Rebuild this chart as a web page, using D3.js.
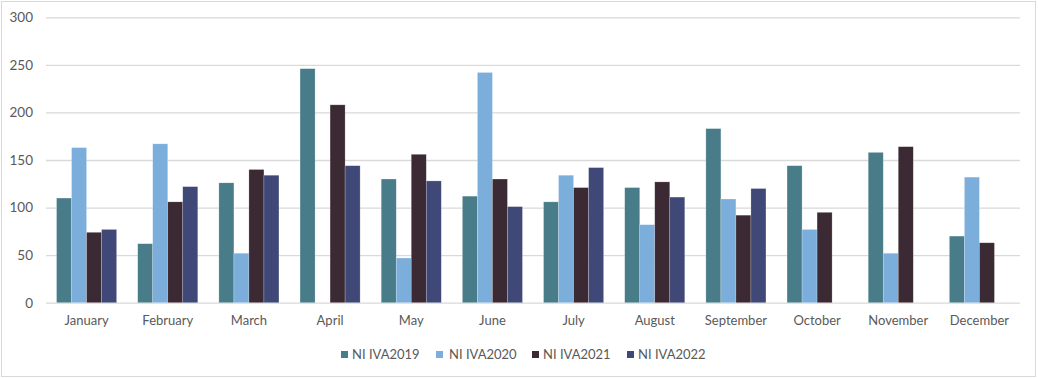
<!DOCTYPE html>
<html><head><meta charset="utf-8">
<script src="https://cdn.jsdelivr.net/npm/d3@7/dist/d3.min.js"></script>
<style>body{margin:0;background:#fff}svg{display:block}text{font-family:Lato,"Open Sans",sans-serif}</style>
</head><body><svg id="c" width="1038" height="378"></svg>
<script>
const months = ["January","February","March","April","May","June","July","August","September","October","November","December"];
const seriesNames = ["NI IVA2019","NI IVA2020","NI IVA2021","NI IVA2022"];
const iva2019 = [110,62,126,246,130,112,106,121,183,144,158,70];
const iva2020 = [163,167,52,null,47,242,134,82,109,77,52,132];
const iva2021 = [74,106,140,208,156,130,121,127,92,95,164,63];
const iva2022 = [77,122,134,144,128,101,142,111,120,null,null,null];
const yTicks = [0,50,100,150,200,250,300];
const colors = ["#487C89","#7BAEDB","#3B2A33","#3F4876"];

const series = [iva2019, iva2020, iva2021, iva2022];
const svg = d3.select("#c");
svg.append("rect").attr("x",1.5).attr("y",1.5).attr("width",1034).attr("height",375)
  .attr("fill","#fff").attr("stroke","#d9d9d9").attr("stroke-width",1);

const pLeft = 46, pRight = 1020, pTop = 17.3, pBottom = 302.7;
const x = d3.scaleBand().domain(months).range([pLeft,pRight]).paddingInner(0.26).paddingOuter(0.13);
const x1 = d3.scaleBand().domain(seriesNames).range([0,x.bandwidth()]);
const y = d3.scaleLinear().domain([0,300]).range([pBottom,pTop]);

const yAxis = d3.axisLeft(y).tickValues(yTicks).tickSize(-(pRight-pLeft)).tickPadding(13);
const gy = svg.append("g").attr("transform",`translate(${pLeft},0)`).call(yAxis);
gy.select(".domain").remove();
gy.selectAll(".tick line").attr("stroke","#d9d9d9").attr("stroke-width",1.3);
gy.selectAll(".tick text").attr("fill","#595959").attr("font-size",13.5);

months.forEach((m,i)=>{
  series.forEach((s,j)=>{
    const v = s[i];
    if (v==null) return;
    svg.append("rect")
      .attr("x", x(m)+x1(seriesNames[j]))
      .attr("y", y(v))
      .attr("width", x1.bandwidth())
      .attr("height", y(0)-y(v))
      .attr("fill", colors[j])
      .attr("stroke","#ffffff").attr("stroke-opacity",0.35).attr("stroke-width",0.6);
  });
});

const xAxis = d3.axisBottom(x).tickSize(0).tickPadding(13);
const gx = svg.append("g").attr("transform",`translate(0,${pBottom})`).call(xAxis);
gx.select(".domain").remove();
gx.selectAll(".tick text").attr("fill","#595959").attr("font-size",13);

const legX = [341,436,532,627];
const leg = svg.append("g");
seriesNames.forEach((n,j)=>{
  leg.append("rect").attr("x",legX[j]).attr("y",351).attr("width",7).attr("height",7).attr("fill",colors[j]);
  leg.append("text").attr("x",legX[j]+11+(j==1?2:0)).attr("y",358.5).attr("fill","#595959").attr("font-size",13).text(n);
});
</script></body></html>
